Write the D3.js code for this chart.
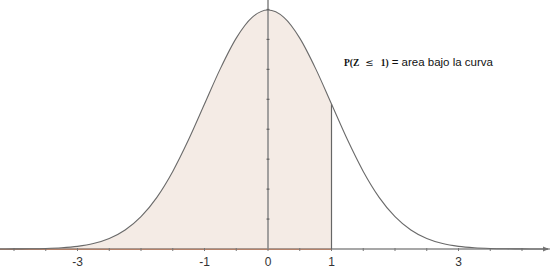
<!DOCTYPE html>
<html><head><meta charset="utf-8">
<script src="https://cdn.jsdelivr.net/npm/d3@7"></script>
<style>html,body{margin:0;padding:0;background:#fff;}svg{display:block;}</style>
</head><body>
<svg id="c" width="550" height="273"></svg>
<script>
// z values and standard normal density values
const zValues = [-4.5,-4.25,-4,-3.75,-3.5,-3.25,-3,-2.75,-2.5,-2.25,-2,-1.75,-1.5,-1.25,-1,-0.75,-0.5,-0.25,0,0.25,0.5,0.75,1,1.25,1.5,1.75,2,2.25,2.5,2.75,3,3.25,3.5,3.75,4,4.25,4.5];
const density = [0.000016,0.000054,0.000134,0.000353,0.000873,0.002029,0.004432,0.009094,0.017528,0.031740,0.053991,0.086277,0.129518,0.182649,0.241971,0.301137,0.352065,0.386668,0.398942,0.386668,0.352065,0.301137,0.241971,0.182649,0.129518,0.086277,0.053991,0.031740,0.017528,0.009094,0.004432,0.002029,0.000873,0.000353,0.000134,0.000054,0.000016];
const xTickLabels = [-3,-1,0,1,3];
const xMinorTicks = [-4,-3.5,-3,-2.5,-2,-1.5,-1,-0.5,0,0.5,1,1.5,2,2.5,3,3.5,4];
const yMinorTicks = [0.05,0.1,0.15,0.2,0.25,0.3,0.35,0.4];
const zCut = 1;
const annotationBold = "P(Z";
const annotationLe = "≤";
const annotationOne = "1)";
const annotationRest = "= area bajo la curva";

const svg = d3.select("#c");
const x = d3.scaleLinear().domain([0,1]).range([268,331.5]);
const y = d3.scaleLinear().domain([0,0.4]).range([249,9.4]);
const pts = zValues.map((z,i)=>({z, d: density[i]}));

// shaded area up to zCut
const areaPts = pts.filter(p=>p.z<=zCut);
svg.append("path").datum(areaPts)
  .attr("d", d3.area().x(p=>x(p.z)).y0(y(0)).y1(p=>y(p.d)).curve(d3.curveMonotoneX))
  .attr("fill","#f4ebe5").attr("stroke","none");

// x-axis
svg.append("line").attr("x1",0).attr("x2",548).attr("y1",y(0)).attr("y2",y(0))
  .attr("stroke","#8a8a8a").attr("stroke-width",1.3);
svg.append("line").attr("x1",x(-4.3)).attr("x2",x(zCut)).attr("y1",y(0)+0.3).attr("y2",y(0)+0.3)
  .attr("stroke","#b87a5c").attr("stroke-width",1);
svg.append("path").attr("d",`M${549},${y(0)} l-6,-2.5 l0,5 z`).attr("fill","#777");
svg.selectAll(".xt").data(xMinorTicks).join("line")
  .attr("x1",d=>x(d)).attr("x2",d=>x(d)).attr("y1",y(0)-1).attr("y2",y(0)+2)
  .attr("stroke","#777").attr("stroke-width",1);
svg.selectAll(".xl").data(xTickLabels).join("text")
  .attr("x",d=>x(d)).attr("y",266).attr("text-anchor","middle")
  .attr("font-family","Liberation Sans, Arial, sans-serif").attr("font-size",12).attr("fill","#333")
  .text(d=>d);

// y-axis
svg.append("line").attr("x1",x(0)).attr("x2",x(0)).attr("y1",0).attr("y2",y(0))
  .attr("stroke","#8c8c8c").attr("stroke-width",1.6);
svg.selectAll(".yt").data(yMinorTicks).join("line")
  .attr("x1",x(0)-1.5).attr("x2",x(0)+1.5).attr("y1",d=>y(d)).attr("y2",d=>y(d))
  .attr("stroke","#555").attr("stroke-width",1);

// cut line
svg.append("line").attr("x1",x(zCut)).attr("x2",x(zCut)).attr("y1",y(density[zValues.indexOf(zCut)])).attr("y2",y(0))
  .attr("stroke","#666").attr("stroke-width",1.2);

// curve
svg.append("path").datum(pts)
  .attr("d", d3.line().x(p=>x(p.z)).y(p=>y(p.d)).curve(d3.curveMonotoneX))
  .attr("fill","none").attr("stroke","#6a6a6a").attr("stroke-width",1.1);

// annotation
const t = svg.append("text").attr("x",344).attr("y",66).attr("fill","#111");
t.append("tspan").attr("font-family","Liberation Serif, Times New Roman, serif").attr("font-weight","bold").attr("font-size",9.5).text(annotationBold);
t.append("tspan").attr("dx",6).attr("font-family","DejaVu Sans, sans-serif").attr("font-size",10).text(annotationLe);
t.append("tspan").attr("dx",7).attr("font-family","Liberation Serif, Times New Roman, serif").attr("font-weight","bold").attr("font-size",9.5).text(annotationOne);
t.append("tspan").attr("dx",3).attr("font-family","Liberation Sans, Arial, sans-serif").attr("font-size",11.5).text(annotationRest);
</script>
</body></html>
